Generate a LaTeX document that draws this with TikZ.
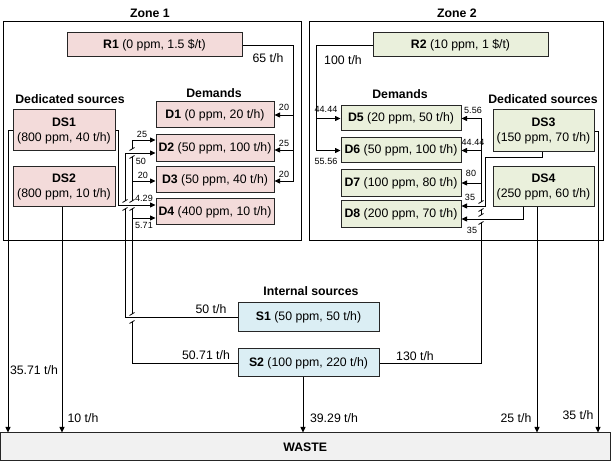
\documentclass[tikz,border=0pt]{standalone}
\usepackage{fontspec}
\setmainfont{Liberation Sans}
\usetikzlibrary{arrows.meta}
\definecolor{pinkbox}{RGB}{243,219,218}
\definecolor{greenbox}{RGB}{234,240,220}
\definecolor{bluebox}{RGB}{219,238,244}
\definecolor{wastebox}{RGB}{241,241,241}
\newcommand\xjump[1]{%
  \draw[white, line width=3pt] ([yshift=4pt]#1) -- ([yshift=-4pt]#1);
  \draw[flow] ([shift={(-2.5,-2.5)}]#1) -- ([shift={(2.5,-5.5)}]#1);
  \draw[flow] ([shift={(-2.5,5.5)}]#1) -- ([shift={(2.5,2.5)}]#1);
}
\begin{document}
\begin{tikzpicture}[x=1pt,y=-1pt,
  font=\fontsize{12.3}{15}\selectfont,
  frame/.style={draw=black, line width=1pt, inner sep=0pt},
  box/.style={draw=black!85, line width=1pt, inner sep=0pt, align=center, minimum height=26pt},
  zA/.style={box, fill=pinkbox},
  zB/.style={box, fill=greenbox},
  zS/.style={box, fill=bluebox},
  lbl/.style={inner sep=0pt},
  sm/.style={inner sep=0pt, font=\fontsize{9}{10}\selectfont},
  ttl/.style={inner sep=0pt, font=\fontsize{12.3}{15}\selectfont\bfseries},
  flow/.style={line width=0.8pt, black},
  arr/.style={flow, -{Triangle[length=5.5pt,width=5pt]}},
]
\useasboundingbox (0,0) rectangle (611,462);

% zones
\node[frame, minimum width=298pt, minimum height=219pt] (zone1) at (152,131.5) {};
\node[frame, minimum width=294pt, minimum height=219pt] (zone2) at (456,131.5) {};
\node[ttl] (t1) at (150,13) {Zone 1};
\node[ttl] (t2) at (457,13) {Zone 2};

% zone 1 boxes
\node[zA, minimum width=175pt, minimum height=24pt] (R1) at (154.5,45) {\textbf{R1} (0 ppm, 1.5 \$/t)};
\node[zA, minimum width=118pt] (D1) at (215,115) {\textbf{D1} (0 ppm, 20 t/h)};
\node[zA, minimum width=118pt, minimum height=27pt] (D2) at (215,148) {\textbf{D2} (50 ppm, 100 t/h)};
\node[zA, minimum width=118pt] (D3) at (215,180) {\textbf{D3} (50 ppm, 40 t/h)};
\node[zA, minimum width=118pt] (D4) at (215,212) {\textbf{D4} (400 ppm, 10 t/h)};
\node[zA, minimum width=102pt, minimum height=41pt] (DS1) at (64,130.5) {\textbf{DS1}\\(800 ppm, 40 t/h)};
\node[zA, minimum width=102pt, minimum height=40pt] (DS2) at (64,187) {\textbf{DS2}\\(800 ppm, 10 t/h)};
\node[ttl] (h1) at (70,99) {Dedicated sources};
\node[ttl] (h2) at (214,93) {Demands};

% zone 2 boxes
\node[zB, minimum width=175pt, minimum height=24pt] (R2) at (460.5,45) {\textbf{R2} (10 ppm, 1 \$/t)};
\node[zB, minimum width=120pt, minimum height=25pt] (D5) at (401,118.5) {\textbf{D5} (20 ppm, 50 t/h)};
\node[zB, minimum width=120pt, minimum height=25pt] (D6) at (401,150.5) {\textbf{D6} (50 ppm, 100 t/h)};
\node[zB, minimum width=120pt, minimum height=27pt] (D7) at (401,183) {\textbf{D7} (100 ppm, 80 t/h)};
\node[zB, minimum width=120pt, minimum height=27pt] (D8) at (401,214.5) {\textbf{D8} (200 ppm, 70 t/h)};
\node[zB, minimum width=101pt, minimum height=42pt] (DS3) at (543.5,131) {\textbf{DS3}\\(150 ppm, 70 t/h)};
\node[zB, minimum width=101pt, minimum height=40pt] (DS4) at (543.5,187) {\textbf{DS4}\\(250 ppm, 60 t/h)};
\node[ttl] (h3) at (400,94) {Demands};
\node[ttl] (h4) at (543,99) {Dedicated sources};

% internal sources
\node[ttl] (h5) at (311,291) {Internal sources};
\node[zS, minimum width=141pt, minimum height=29pt] (S1) at (308.5,317.5) {\textbf{S1} (50 ppm, 50 t/h)};
\node[zS, minimum width=141pt, minimum height=28pt] (S2) at (308.5,363) {\textbf{S2} (100 ppm, 220 t/h)};

% waste
\node[box, fill=wastebox, minimum width=609.5pt, minimum height=28pt] (W) at (305.25,447) {\textbf{WASTE}};

% ---- connectors zone 1 ----
\coordinate (r1c) at (293,45);
\coordinate (r1d1) at (293,115);
\coordinate (r1d2) at (293,150);
\coordinate (r1d3) at (293,181);
\draw[arr] (R1.east |- r1c) -- (r1c) -- (r1d3) -- (r1d3 -| D3.east);
\draw[arr] (r1d1) -- (r1d1 -| D1.east);
\draw[arr] (r1d2) -- (r1d2 -| D2.east);

% S2 (west side)
\coordinate (s2top) at (132,140);
\coordinate (s2d3) at (132,181);
\coordinate (s2d4) at (132,218);
\draw[arr] (S2.west) -- (s2top |- S2.west) -- (s2top) -- (s2top -| D2.west);
\draw[arr] (s2d3) -- (s2d3 -| D3.west);
\draw[arr] (s2d4) -- (s2d4 -| D4.west);
\coordinate (k1) at (132,318);
\coordinate (k2) at (132,153);
\coordinate (k3) at (132,205);
\xjump{k1}
\xjump{k2}
\xjump{k3}

% S1
\coordinate (s1c) at (125,153);
\draw[arr] (S1.west) -- (s1c |- S1.west) -- (s1c) -- (s1c -| D2.west);
\coordinate (k4) at (125,205);
\xjump{k4}

% DS1
\coordinate (ds1c) at (118,205);
\draw[arr] (DS1.east) -- (ds1c |- DS1.east) -- (ds1c) -- (ds1c -| D4.west);
\coordinate (ds1w) at (8,130.5);
\draw[arr] (DS1.west) -- (ds1w) -- (ds1w |- W.north);
% DS2
\coordinate (ds2b) at (62,300);
\draw[arr] (ds2b |- DS2.south) -- (ds2b |- W.north);
% S2 to waste
\coordinate (s2b) at (303,400);
\draw[arr] (s2b |- S2.south) -- (s2b |- W.north);

% ---- connectors zone 2 ----
\coordinate (r2c) at (316,45);
\coordinate (r2d5) at (316,118.5);
\draw[arr] (R2.west |- r2c) -- (r2c) -- (r2c |- D6.west) -- (D6.west);
\draw[arr] (r2d5) -- (D5.west);

\coordinate (s2e) at (481,118.5);
\coordinate (s2d6) at (481,150.5);
\coordinate (s2d7) at (481,183);
\draw[arr] (S2.east) -- (s2e |- S2.east) -- (s2e) -- (s2e -| D5.east);
\draw[arr] (s2d6) -- (s2d6 -| D6.east);
\draw[arr] (s2d7) -- (s2d7 -| D7.east);
\coordinate (k5) at (481,206);
\coordinate (k6) at (481,219);
\xjump{k5}
\xjump{k6}

\coordinate (ds3a) at (542,157);
\coordinate (ds3b) at (485,206);
\draw[arr] (ds3a |- DS3.south) -- (ds3a) -- (ds3a -| ds3b) -- (ds3b) -- (ds3b -| D8.east);
\coordinate (ds4a) at (523,219);
\draw[arr] (ds4a |- DS4.south) -- (ds4a) -- (ds4a -| D8.east);
\coordinate (ds4w) at (537,300);
\draw[arr] (ds4w |- DS4.south) -- (ds4w |- W.north);
\coordinate (ds3w) at (598,131);
\draw[arr] (DS3.east) -- (ds3w) -- (ds3w |- W.north);

% ---- flow labels ----
\node[lbl] (f1) at (268,58) {65 t/h};
\node[lbl] (f2) at (343,60) {100 t/h};
\node[lbl] (f3) at (34,370) {35.71 t/h};
\node[lbl] (f4) at (83,418) {10 t/h};
\node[lbl] (f5) at (211,309) {50 t/h};
\node[lbl] (f6) at (206,355) {50.71 t/h};
\node[lbl] (f7) at (415,356) {130 t/h};
\node[lbl] (f8) at (334,418) {39.29 t/h};
\node[lbl] (f9) at (516,418) {25 t/h};
\node[lbl] (f10) at (578,415) {35 t/h};

% small labels zone 1
\node[sm] (n1) at (284,107) {20};
\node[sm] (n2) at (284,143) {25};
\node[sm] (n3) at (284,174) {20};
\node[sm] (n4) at (142,134) {25};
\node[sm] (n5) at (141,161) {50};
\node[sm] (n6) at (143,175) {20};
\node[sm] (n7) at (144,198) {4.29};
\node[sm] (n8) at (144,225) {5.71};
% small labels zone 2
\node[sm] (n9) at (326,109) {44.44};
\node[sm] (n10) at (326,161) {55.56};
\node[sm] (n11) at (473,110) {5.56};
\node[sm] (n12) at (473,142) {44.44};
\node[sm] (n13) at (471,173) {80};
\node[sm] (n14) at (470,197) {35};
\node[sm] (n15) at (472,230) {35};
\end{tikzpicture}
\end{document}
